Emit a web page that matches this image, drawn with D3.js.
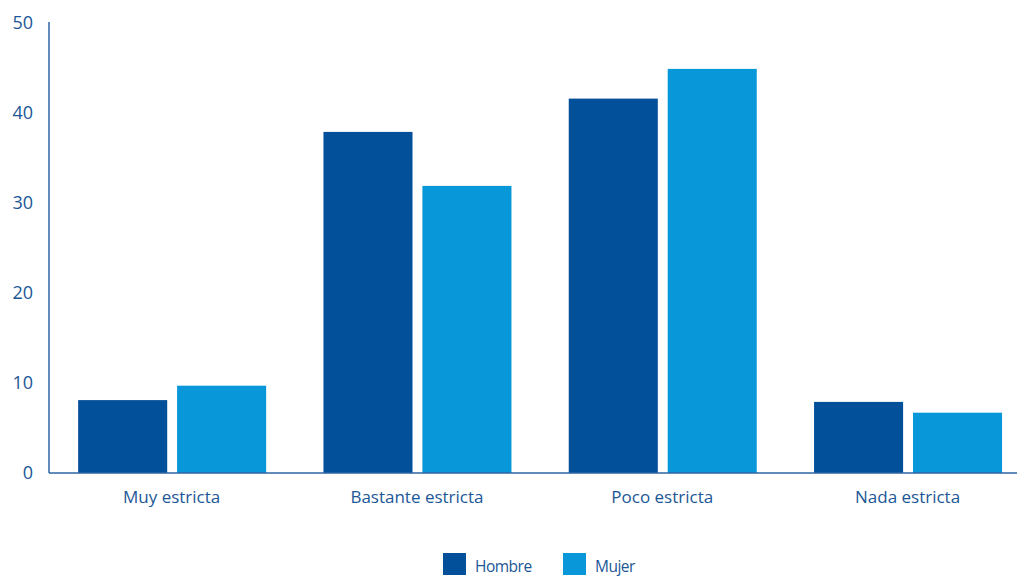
<!DOCTYPE html>
<html><head><meta charset="utf-8">
<script src="https://cdn.jsdelivr.net/npm/d3@7"></script>
<style>body{margin:0;background:#fff}svg{display:block}</style>
</head><body><svg id="c" width="1017" height="578"></svg>
<script>
const categories = ["Muy estricta","Bastante estricta","Poco estricta","Nada estricta"];
const seriesNames = ["Hombre","Mujer"];
const hombre = [8.1, 37.9, 41.6, 7.9];
const mujer = [9.7, 31.9, 44.9, 6.7];
const yTicks = [0,10,20,30,40,50];
const colors = ["#03509a","#0897d8"];

(function(){
const textColor = "#1b5796";
const axisColor = "#2d64a3";
const font = "'Open Sans', sans-serif";

const svg = d3.select("#c");
const plotLeft = 49, plotTop = 23, plotBottom = 473;
const y = d3.scaleLinear().domain([0,50]).range([plotBottom, plotTop]);
const x0 = d3.scaleBand().domain(categories).range([plotLeft, plotLeft + 4*245.3]).padding(0);
const groupW = 188;
const x1 = d3.scaleBand().domain(seriesNames).range([0, groupW]).paddingInner(0.1).paddingOuter(0);
const vals = [hombre, mujer];

const g = svg.append("g");
categories.forEach((c, i) => {
  const cx = x0(c) + x0.bandwidth()/2;
  seriesNames.forEach((s, j) => {
    const v = vals[j][i];
    g.append("rect")
      .attr("x", cx - groupW/2 + x1(s) + 0.5)
      .attr("y", y(v))
      .attr("width", x1.bandwidth())
      .attr("height", y(0) - y(v))
      .attr("fill", colors[j]);
  });
  svg.append("text").attr("x", cx).attr("y", 503).attr("text-anchor","middle")
    .attr("font-family", font).attr("font-size", 17).attr("font-weight", 500).attr("fill", textColor).text(c);
});

svg.append("line").attr("x1", plotLeft).attr("x2", plotLeft).attr("y1", plotTop-1).attr("y2", plotBottom)
  .attr("stroke", axisColor).attr("stroke-width", 1.5);
svg.append("line").attr("x1", plotLeft).attr("x2", 1017).attr("y1", plotBottom).attr("y2", plotBottom)
  .attr("stroke", axisColor).attr("stroke-width", 1.5);

yTicks.forEach(t => {
  svg.append("text").attr("x", 33).attr("y", y(t)).attr("dy", "0.35em").attr("text-anchor","end")
    .attr("font-family", font).attr("font-size", 18).attr("font-weight", 500).attr("fill", textColor).text(t);
});

const legX = [443, 563];
seriesNames.forEach((s, j) => {
  svg.append("rect").attr("x", legX[j]).attr("y", 553).attr("width", 23).attr("height", 22).attr("fill", colors[j]);
  svg.append("text").attr("x", legX[j] + 32).attr("y", 572).attr("font-family", font)
    .attr("font-size", 15.5).attr("font-weight", 500).attr("letter-spacing", "-0.5px").attr("fill", textColor).text(s);
});
})();
</script></body></html>
